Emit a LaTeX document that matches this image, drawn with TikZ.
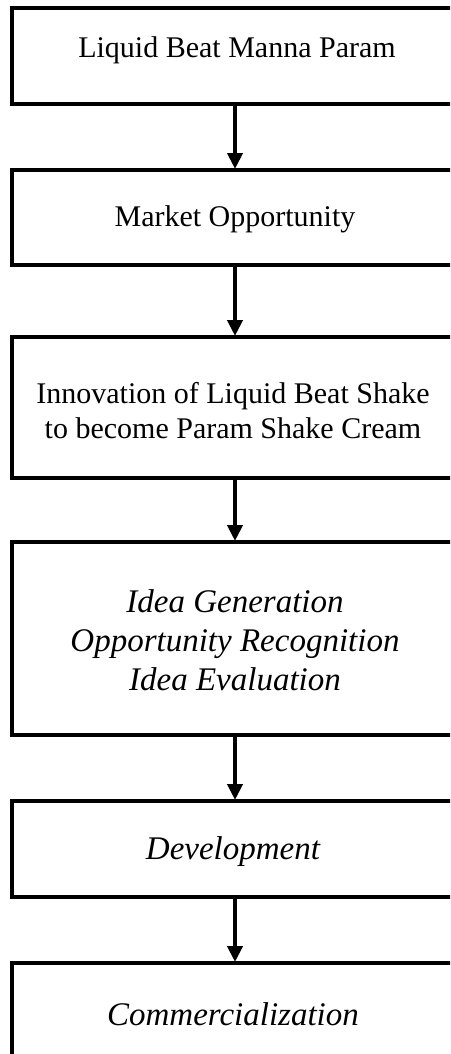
\documentclass[tikz,border=0pt]{standalone}
\usepackage{fontspec}
\setmainfont{Liberation Serif}
\usetikzlibrary{arrows.meta}
\begin{document}
\begin{tikzpicture}[x=1pt,y=-1pt,
  flowbox/.style={draw=black,line width=4pt,rectangle,inner sep=0pt,minimum width=446pt},
  uptext/.style={font=\fontsize{30}{35}\selectfont,align=center,inner sep=0pt},
  ittext/.style={font=\fontsize{33}{39}\selectfont\itshape,align=center,inner sep=0pt},
  flowarrow/.style={line width=4pt,-{Triangle[width=15pt,length=16pt]},shorten >=-1pt}]
\useasboundingbox (0,0) rectangle (450,1054);
\clip (0,0) rectangle (450,1054);
\fill[white] (0,0) rectangle (450,1054);
% boxes
\node[flowbox,minimum height=96pt] (b1) at (235,56) {};
\node[flowbox,minimum height=95pt] (b2) at (235,217.5) {};
\node[flowbox,minimum height=141pt] (b3) at (235,407.5) {};
\node[flowbox,minimum height=193pt] (b4) at (235,638.5) {};
\node[flowbox,minimum height=96pt] (b5) at (235,849) {};
\node[flowbox,minimum height=96pt] (b6) at (235,1011) {};
% texts
\node[uptext] (t1) at (237,50) {Liquid Beat Manna Param};
\node[uptext] (t2) at (235,219) {Market Opportunity};
\node[uptext] (t3) at (233,411) {Innovation of Liquid Beat Shake\\to become Param Shake Cream};
\node[ittext] (t4) at (235,640) {Idea Generation\\Opportunity Recognition\\Idea Evaluation};
\node[ittext] (t5) at (233,852) {Development};
\node[ittext] (t6) at (233,1014) {Commercialization};
% arrows
\draw[flowarrow] (b1.south) -- (b2.north);
\draw[flowarrow] (b2.south) -- (b3.north);
\draw[flowarrow] (b3.south) -- (b4.north);
\draw[flowarrow] (b4.south) -- (b5.north);
\draw[flowarrow] (b5.south) -- (b6.north);
\end{tikzpicture}
\end{document}
